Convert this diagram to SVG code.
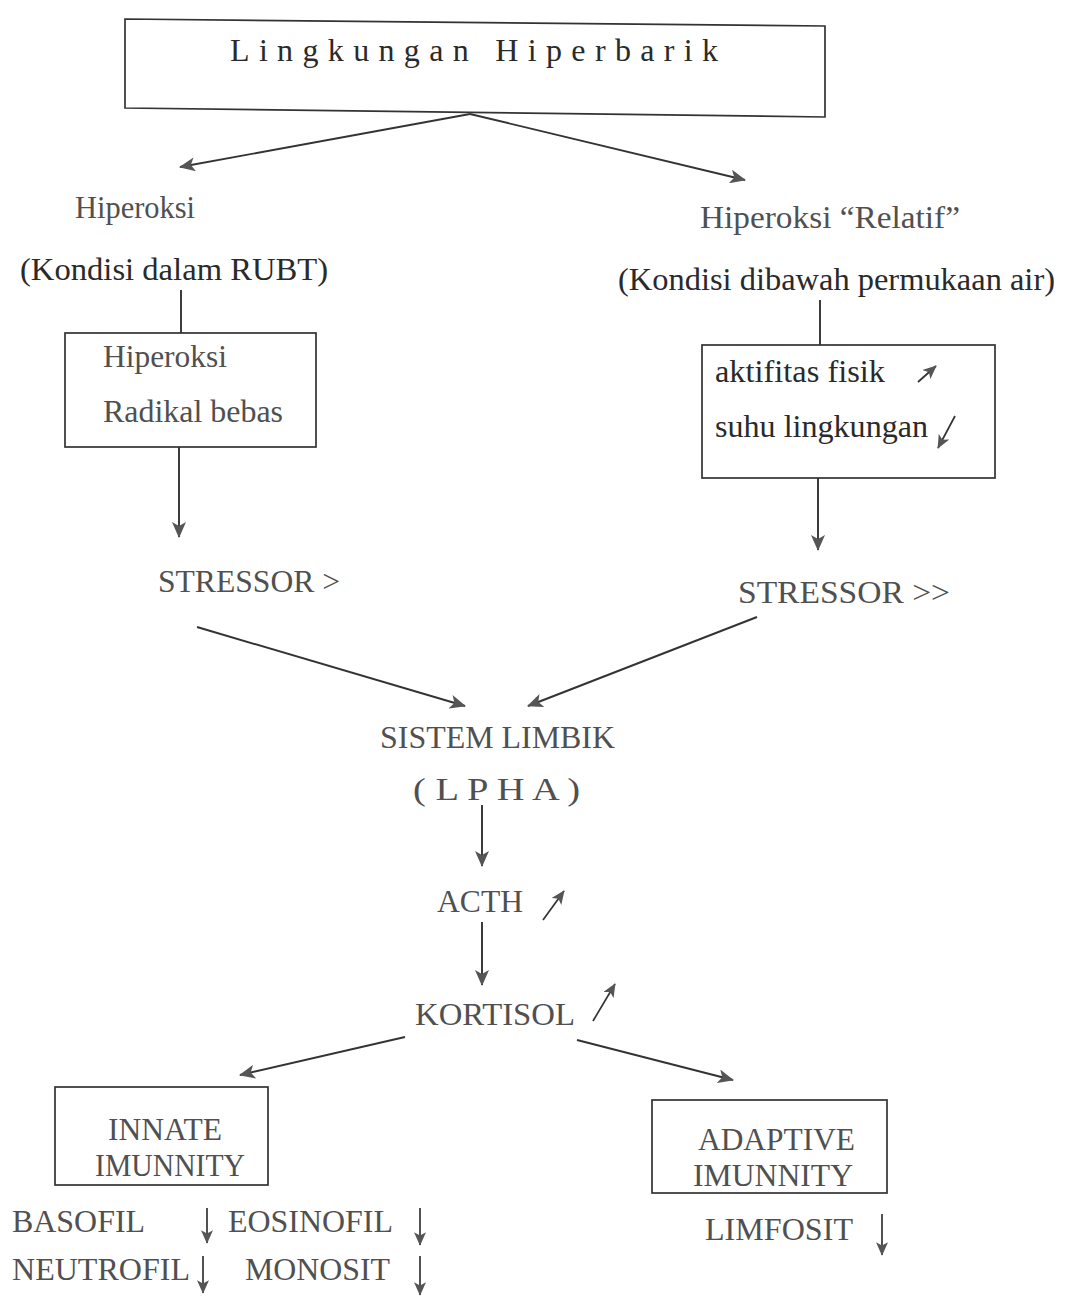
<svg xmlns="http://www.w3.org/2000/svg" width="1069" height="1298" viewBox="0 0 1069 1298">
<style>
.t{font-family:"Liberation Serif","Times New Roman",serif;font-size:32px;fill:#2a2a2a}
.g{fill:#505050}
.box{fill:none;stroke:#333;stroke-width:1.7}
.ln{fill:none;stroke:#333;stroke-width:1.9}
.sm{fill:none;stroke:#333;stroke-width:1.7}
</style>
<defs>
<marker id="ah" viewBox="0 0 16 14" refX="15" refY="7" markerWidth="16" markerHeight="14" markerUnits="userSpaceOnUse" orient="auto">
<path d="M0,0 L16,7 L0,14 L4,7 Z" fill="#555"/>
</marker>
<marker id="ahs" viewBox="0 0 16 14" refX="15" refY="7" markerWidth="14" markerHeight="12" markerUnits="userSpaceOnUse" orient="auto">
<path d="M0,0 L16,7 L0,14 L4,7 Z" fill="#555"/>
</marker>
</defs>
<rect width="1069" height="1298" fill="#fff"/>

<g id="top">
<polygon class="box" points="125,19 825,26 825,117 125,108"/>
<text class="t" x="230" y="61" font-size="30" textLength="488" lengthAdjust="spacing">Lingkungan  Hiperbarik</text>
</g>

<g id="left-head">
<text class="t g" x="75" y="218" textLength="120" lengthAdjust="spacingAndGlyphs">Hiperoksi</text>
<text class="t" x="20" y="280" textLength="308" lengthAdjust="spacingAndGlyphs">(Kondisi dalam  RUBT)</text>
</g>
<g id="left-box">
<rect class="box" x="65" y="333" width="251" height="114"/>
<text class="t g" x="103" y="367" textLength="124" lengthAdjust="spacingAndGlyphs">Hiperoksi</text>
<text class="t g" x="103" y="422" textLength="180" lengthAdjust="spacingAndGlyphs">Radikal bebas</text>
</g>
<g id="stressor1"><text class="t g" x="158" y="592" textLength="182" lengthAdjust="spacingAndGlyphs">STRESSOR &gt;</text></g>

<g id="right-head">
<text class="t g" x="700" y="228" textLength="260" lengthAdjust="spacingAndGlyphs">Hiperoksi  “Relatif”</text>
<text class="t" x="618" y="290" textLength="437" lengthAdjust="spacingAndGlyphs">(Kondisi dibawah permukaan air)</text>
</g>
<g id="right-box">
<rect class="box" x="702" y="345" width="293" height="133"/>
<text class="t" x="715" y="382" textLength="170" lengthAdjust="spacingAndGlyphs">aktifitas fisik</text>
<text class="t" x="715" y="437" textLength="213" lengthAdjust="spacingAndGlyphs">suhu lingkungan</text>
</g>
<g id="stressor2"><text class="t g" x="738" y="603" textLength="212" lengthAdjust="spacingAndGlyphs">STRESSOR  &gt;&gt;</text></g>

<g id="limbik">
<text class="t g" x="380" y="748" textLength="235" lengthAdjust="spacingAndGlyphs">SISTEM LIMBIK</text>
<text class="t g" x="413" y="800" textLength="167" lengthAdjust="spacingAndGlyphs">( L  P  H  A )</text>
</g>
<g id="acth"><text class="t g" x="437" y="912" textLength="86" lengthAdjust="spacingAndGlyphs">ACTH</text></g>
<g id="kortisol"><text class="t g" x="415" y="1025" textLength="160" lengthAdjust="spacingAndGlyphs">KORTISOL</text></g>

<g id="innate">
<rect class="box" x="55" y="1087" width="213" height="98"/>
<text class="t g" x="108" y="1140" textLength="114" lengthAdjust="spacingAndGlyphs">INNATE</text>
<text class="t g" x="95" y="1176" textLength="150" lengthAdjust="spacingAndGlyphs">IMUNNITY</text>
</g>
<g id="adaptive">
<rect class="box" x="652" y="1100" width="235" height="93"/>
<text class="t g" x="698" y="1150" textLength="157" lengthAdjust="spacingAndGlyphs">ADAPTIVE</text>
<text class="t g" x="693" y="1186" textLength="160" lengthAdjust="spacingAndGlyphs">IMUNNITY</text>
</g>
<g id="cells">
<text class="t g" x="12" y="1232" textLength="133" lengthAdjust="spacingAndGlyphs">BASOFIL</text>
<text class="t g" x="228" y="1232" textLength="165" lengthAdjust="spacingAndGlyphs">EOSINOFIL</text>
<text class="t g" x="12" y="1280" textLength="178" lengthAdjust="spacingAndGlyphs">NEUTROFIL</text>
<text class="t g" x="245" y="1280" textLength="145" lengthAdjust="spacingAndGlyphs">MONOSIT</text>
<text class="t g" x="705" y="1240" textLength="148" lengthAdjust="spacingAndGlyphs">LIMFOSIT</text>
</g>

<g id="connectors">
<line class="ln" x1="470" y1="114" x2="180" y2="167" marker-end="url(#ah)"/>
<line class="ln" x1="470" y1="114" x2="745" y2="180" marker-end="url(#ah)"/>
<line class="ln" x1="181" y1="290" x2="181" y2="333"/>
<line class="ln" x1="179" y1="447" x2="179" y2="537" marker-end="url(#ah)"/>
<line class="ln" x1="820" y1="300" x2="820" y2="345"/>
<line class="ln" x1="818" y1="478" x2="818" y2="550" marker-end="url(#ah)"/>
<line class="ln" x1="197" y1="627" x2="465" y2="706" marker-end="url(#ah)"/>
<line class="ln" x1="757" y1="617" x2="528" y2="706" marker-end="url(#ah)"/>
<line class="ln" x1="482" y1="805" x2="482" y2="866" marker-end="url(#ah)"/>
<line class="ln" x1="482" y1="922" x2="482" y2="985" marker-end="url(#ah)"/>
<line class="ln" x1="405" y1="1037" x2="240" y2="1075" marker-end="url(#ah)"/>
<line class="ln" x1="577" y1="1040" x2="733" y2="1080" marker-end="url(#ah)"/>
</g>

<g id="indicators">
<line class="sm" x1="918" y1="382" x2="936" y2="366" marker-end="url(#ahs)"/>
<line class="sm" x1="955" y1="416" x2="938" y2="448" marker-end="url(#ahs)"/>
<line class="sm" x1="543" y1="920" x2="564" y2="891" marker-end="url(#ahs)"/>
<line class="sm" x1="593" y1="1021" x2="615" y2="984" marker-end="url(#ahs)"/>
<line class="sm" x1="207" y1="1208" x2="207" y2="1243" marker-end="url(#ahs)"/>
<line class="sm" x1="420" y1="1208" x2="420" y2="1245" marker-end="url(#ahs)"/>
<line class="sm" x1="203" y1="1256" x2="203" y2="1293" marker-end="url(#ahs)"/>
<line class="sm" x1="420" y1="1256" x2="420" y2="1295" marker-end="url(#ahs)"/>
<line class="sm" x1="882" y1="1214" x2="882" y2="1255" marker-end="url(#ahs)"/>
</g>
</svg>
